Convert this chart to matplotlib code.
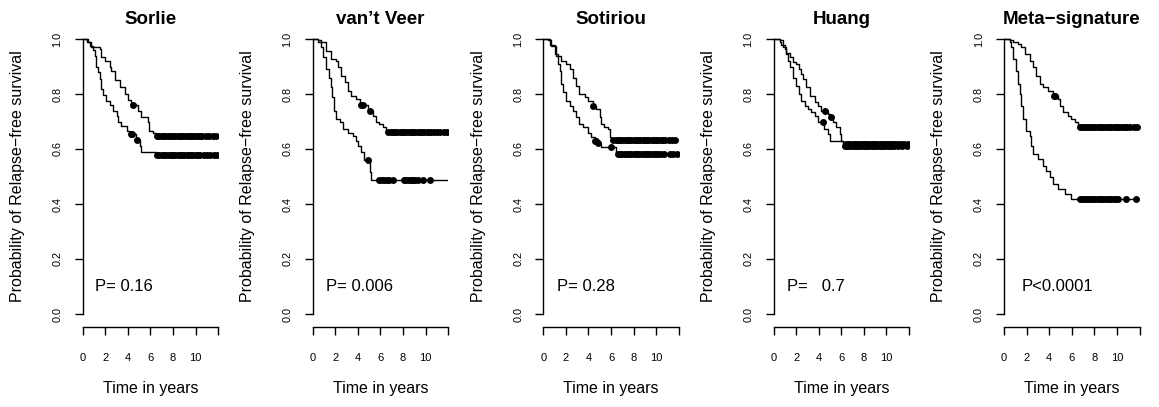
import matplotlib
matplotlib.use("Agg")
import matplotlib.pyplot as plt
import numpy as np

plt.rcParams['font.family'] = ['Liberation Sans', 'DejaVu Sans']

titles = ["Sorlie", "van\u2019t Veer", "Sotiriou", "Huang", "Meta\u2212signature"]
pvals = ["P= 0.16", "P= 0.006", "P= 0.28", "P=   0.7", "P<0.0001"]
x_ticks = [0, 2, 4, 6, 8, 10, 12]
x_tick_labels = ["0", "2", "4", "6", "8", "10", ""]
y_ticks = [0.0, 0.2, 0.4, 0.6, 0.8, 1.0]
max_time = 12.0

# Sorlie
sorlie_hi_t = [0.47, 0.77, 1.5, 1.65, 2.0, 2.4, 2.54, 2.83, 3.27, 3.72, 4.0, 4.3, 4.9, 5.2, 5.8, 5.9, 6.2, 6.5]
sorlie_hi_s = [0.99, 0.972, 0.965, 0.935, 0.92, 0.90, 0.885, 0.85, 0.825, 0.80, 0.78, 0.76, 0.737, 0.715, 0.70, 0.667, 0.66, 0.648]
sorlie_hi_c = [4.45, 6.55, 6.8, 7.0, 7.2, 7.4, 7.6, 7.8, 8.0, 8.2, 8.4, 8.6, 8.8, 9.0, 9.2, 9.4, 9.6, 9.8,
               10.0, 10.2, 10.4, 10.6, 10.9, 11.2, 11.5, 11.8]
sorlie_lo_t = [0.41, 0.62, 0.91, 1.06, 1.21, 1.36, 1.5, 1.65, 1.8, 2.1, 2.4, 2.7, 3.0, 3.1, 3.4, 3.9, 4.2, 4.75, 5.05, 5.2, 6.5]
sorlie_lo_s = [0.99, 0.975, 0.96, 0.94, 0.90, 0.88, 0.855, 0.82, 0.795, 0.775, 0.76, 0.74, 0.72, 0.70, 0.685, 0.667,
               0.655, 0.632, 0.61, 0.588, 0.577]
sorlie_lo_c = [4.3, 4.4, 4.84, 6.6, 6.8, 7.0, 7.2, 7.4, 7.6, 7.8, 8.0, 8.2, 8.4, 8.6, 8.8, 9.0, 9.2, 9.4, 9.6, 9.8,
               10.0, 10.2, 10.4, 10.7, 11.0, 11.3, 11.6, 11.9]

# van't Veer
veer_hi_t = [0.47, 0.77, 1.2, 1.65, 2.1, 2.24, 2.54, 2.83, 3.13, 3.4, 3.86, 4.16, 4.9, 5.34, 5.6, 5.9, 6.2, 6.5, 6.67]
veer_hi_s = [0.995, 0.988, 0.958, 0.927, 0.92, 0.897, 0.867, 0.842, 0.812, 0.794, 0.782, 0.76, 0.74, 0.72, 0.70,
             0.69, 0.68, 0.667, 0.662]
veer_hi_c = [4.3, 4.45, 5.04, 6.7, 6.9, 7.1, 7.3, 7.5, 7.7, 7.9, 8.1, 8.3, 8.5, 8.7, 8.9, 9.1, 9.3, 9.5, 9.7, 9.9,
             10.1, 10.3, 10.5, 10.7, 11.0, 11.3, 11.6, 11.9]
veer_lo_t = [0.47, 0.7, 0.91, 1.2, 1.4, 1.6, 1.7, 1.9, 2.1, 2.4, 2.7, 3.1, 3.57, 3.86, 4.0, 4.3, 4.57, 5.04, 5.2]
veer_lo_s = [0.99, 0.97, 0.933, 0.89, 0.86, 0.824, 0.788, 0.74, 0.71, 0.697, 0.673, 0.66, 0.648, 0.63, 0.612, 0.588,
             0.56, 0.515, 0.489]
veer_lo_c = [4.9, 5.9, 6.1, 6.3, 6.6, 6.8, 7.1, 8.1, 8.3, 8.5, 8.7, 8.9, 9.1, 9.3, 9.8, 10.4]

# Sotiriou
sotiriou_hi_t = [0.41, 0.71, 1.15, 1.6, 2.0, 2.33, 2.6, 2.9, 3.2, 3.66, 3.95, 4.4, 4.7, 5.0, 5.13, 5.4, 5.7, 5.87, 6.0]
sotiriou_hi_s = [0.995, 0.976, 0.94, 0.92, 0.91, 0.89, 0.86, 0.83, 0.80, 0.788, 0.776, 0.758, 0.745, 0.715, 0.69,
                 0.68, 0.673, 0.642, 0.633]
sotiriou_hi_c = [4.4, 6.2, 6.4, 6.6, 6.8, 7.0, 7.2, 7.4, 7.6, 7.8, 8.0, 8.2, 8.4, 8.6, 8.8, 9.0, 9.2, 9.4, 9.6, 9.8,
                 10.0, 10.2, 10.4, 10.6, 10.8, 11.1, 11.4, 11.7]
sotiriou_lo_t = [0.56, 1.0, 1.3, 1.45, 1.6, 1.74, 2.0, 2.33, 2.6, 2.9, 3.2, 3.5, 3.95, 4.25, 4.54, 4.84, 5.0, 5.13, 6.46]
sotiriou_lo_s = [0.98, 0.945, 0.91, 0.885, 0.836, 0.806, 0.776, 0.758, 0.74, 0.715, 0.69, 0.68, 0.66, 0.642, 0.63,
                 0.622, 0.618, 0.608, 0.582]
sotiriou_lo_c = [4.54, 4.7, 4.84, 6.0, 6.6, 6.8, 7.0, 7.2, 7.4, 7.6, 7.8, 8.0, 8.2, 8.4, 8.6, 8.8, 9.0, 9.2, 9.4,
                 9.6, 9.8, 10.0, 10.2, 10.4, 10.7, 11.2, 11.5, 11.8]

# Huang
huang_hi_t = [0.55, 0.69, 0.99, 1.14, 1.43, 1.73, 2.0, 2.3, 2.46, 2.6, 2.9, 3.2, 3.64, 3.94, 4.23, 4.82, 5.0, 5.27,
              5.56, 5.86, 6.0, 6.15, 6.3]
huang_hi_s = [0.99, 0.98, 0.964, 0.95, 0.933, 0.915, 0.91, 0.89, 0.873, 0.855, 0.824, 0.794, 0.77, 0.758, 0.74,
              0.727, 0.715, 0.697, 0.68, 0.655, 0.63, 0.624, 0.617]
huang_hi_c = [4.59, 5.06, 6.4, 6.6, 6.8, 7.0, 7.2, 7.4, 7.6, 7.8, 8.0, 8.2, 8.4, 8.6, 8.8, 9.0, 9.2, 9.4, 9.6, 9.8,
              10.0, 10.2, 10.4, 10.6, 10.8, 11.0, 11.3, 11.6, 11.9]
huang_lo_t = [0.55, 0.84, 1.14, 1.28, 1.43, 1.73, 2.0, 2.3, 2.46, 2.76, 3.05, 3.35, 3.64, 3.94, 4.5, 4.82, 4.97, 6.15]
huang_lo_s = [0.995, 0.97, 0.945, 0.92, 0.897, 0.86, 0.83, 0.80, 0.776, 0.758, 0.745, 0.733, 0.72, 0.70, 0.673,
              0.655, 0.63, 0.612]
huang_lo_c = [4.38, 6.3, 6.5, 6.7, 6.9, 7.1, 7.3, 7.5, 7.7, 7.9, 8.1, 8.3, 8.5, 8.7, 8.9, 9.1, 9.3, 9.5, 9.7, 9.9,
              10.1, 10.3, 10.5, 10.7, 11.0, 11.4, 11.8]

# Meta-signature
meta_hi_t = [0.5, 0.8, 1.24, 1.53, 1.83, 2.27, 2.57, 2.86, 3.16, 3.45, 3.9, 4.3, 4.78, 4.93, 5.22, 5.66, 5.96, 6.25,
             6.55, 6.7]
meta_hi_s = [0.995, 0.988, 0.982, 0.97, 0.945, 0.92, 0.897, 0.867, 0.836, 0.824, 0.812, 0.794, 0.782, 0.758, 0.733,
             0.72, 0.709, 0.697, 0.685, 0.68]
meta_hi_c = [4.4, 4.5, 6.7, 6.9, 7.1, 7.3, 7.5, 7.7, 7.9, 8.1, 8.3, 8.5, 8.7, 8.9, 9.1, 9.3, 9.5, 9.7, 9.9, 10.1,
             10.3, 10.5, 10.7, 10.9, 11.2, 11.5, 11.8]
meta_lo_t = [0.5, 0.65, 0.8, 1.09, 1.24, 1.39, 1.53, 1.68, 1.98, 2.27, 2.42, 2.57, 3.0, 3.45, 3.75, 4.04, 4.34, 4.78,
             5.37, 5.96]
meta_lo_s = [0.99, 0.97, 0.927, 0.885, 0.836, 0.80, 0.758, 0.709, 0.667, 0.648, 0.612, 0.582, 0.564, 0.54, 0.52,
             0.497, 0.473, 0.455, 0.436, 0.418]
meta_lo_c = [6.7, 6.9, 7.1, 7.3, 7.5, 7.7, 7.9, 8.1, 8.3, 8.5, 8.7, 8.9, 9.1, 9.3, 9.5, 9.7, 9.9, 10.1, 10.8, 11.7]

curves = [
    [(sorlie_hi_t, sorlie_hi_s, sorlie_hi_c), (sorlie_lo_t, sorlie_lo_s, sorlie_lo_c)],
    [(veer_hi_t, veer_hi_s, veer_hi_c), (veer_lo_t, veer_lo_s, veer_lo_c)],
    [(sotiriou_hi_t, sotiriou_hi_s, sotiriou_hi_c), (sotiriou_lo_t, sotiriou_lo_s, sotiriou_lo_c)],
    [(huang_hi_t, huang_hi_s, huang_hi_c), (huang_lo_t, huang_lo_s, huang_lo_c)],
    [(meta_hi_t, meta_hi_s, meta_hi_c), (meta_lo_t, meta_lo_s, meta_lo_c)],
]
p_x = [1.1, 1.15, 1.2, 1.17, 1.57]

W, H = 1159, 407
fig = plt.figure(figsize=(W / 100, H / 100), dpi=100)
lefts = [82.7, 312.7, 543.3, 773.5, 1004.0]
ax_w = 135.5
ax_bottom = 325.0
ax_top = 28.0


def km_line(ax, t, s, c):
    x = np.concatenate([[0.0], t, [max_time]])
    y = np.concatenate([[1.0], s, [s[-1]]])
    ax.plot(x, y, drawstyle='steps-post', color='black', lw=1.0)
    idx = np.searchsorted(t, c, side='right') - 1
    yc = np.where(idx >= 0, np.array(s)[np.clip(idx, 0, None)], 1.0)
    ax.plot(c, yc, 'o', color='black', markersize=5, markeredgewidth=0)


for i in range(5):
    ax = fig.add_axes([lefts[i] / W, (H - ax_bottom) / H, ax_w / W, (ax_bottom - ax_top) / H])
    for t, s, c in curves[i]:
        km_line(ax, t, s, c)
    ax.set_xlim(0, max_time)
    ax.set_ylim(-0.04, 1.04)
    for sp in ['top', 'right']:
        ax.spines[sp].set_visible(False)
    ax.spines['left'].set_bounds(0, 1)
    ax.spines['bottom'].set_bounds(0, 12)
    ax.spines['bottom'].set_position(('outward', 1.2))
    ax.spines['left'].set_linewidth(1.0)
    ax.spines['bottom'].set_linewidth(1.0)
    ax.set_xticks(x_ticks)
    ax.set_xticklabels(x_tick_labels)
    ax.set_yticks(y_ticks)
    ax.set_yticklabels(["%.1f" % v for v in y_ticks])
    ax.tick_params(axis='x', length=5.5, width=1.0, pad=13.5, labelsize=8)
    ax.tick_params(axis='y', length=5.5, width=1.0, pad=9, labelsize=7.8)
    plt.setp(ax.get_yticklabels(), rotation=90, va='center')
    ax.set_title(titles[i], fontsize=13.5, fontweight='bold', pad=1.5)
    ax.set_xlabel("Time in years", fontsize=11.5)
    ax.xaxis.label.set_va('center')
    ax.xaxis.set_label_coords(0.5, -0.215)
    ax.set_ylabel("Probability of Relapse\u2212free survival", fontsize=11.5)
    ax.yaxis.label.set_va('center')
    ax.yaxis.set_label_coords(-0.48, 0.5)
    ax.text(p_x[i], 0.1, pvals[i], fontsize=12, va='center', ha='left')

fig.savefig("out.png", dpi=100)
